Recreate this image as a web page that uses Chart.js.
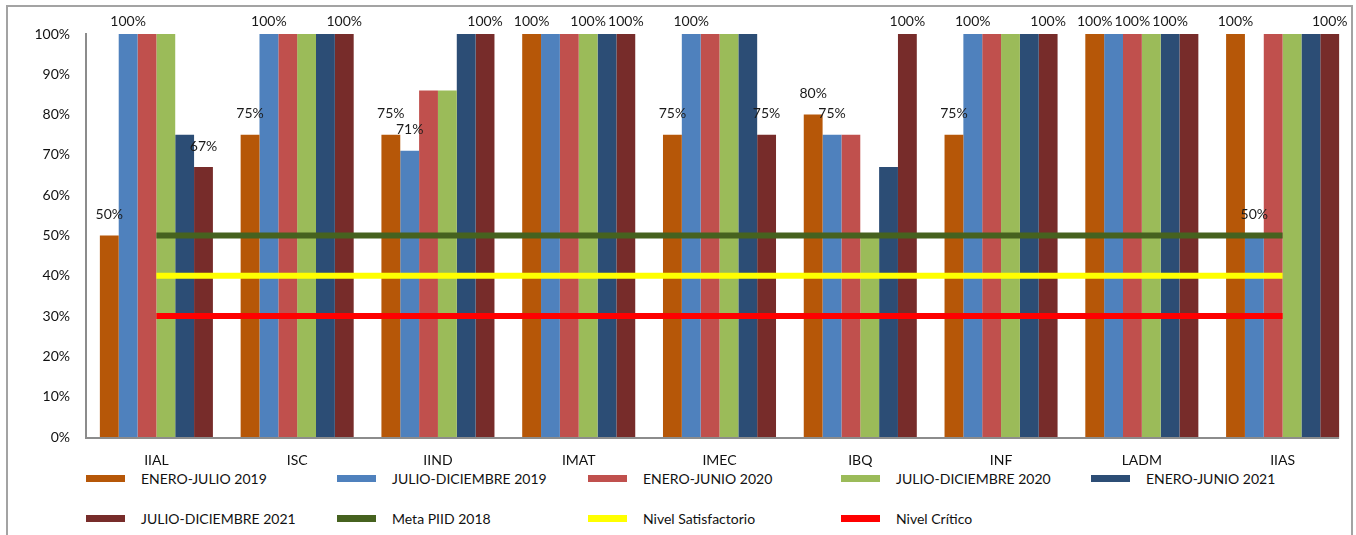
<!DOCTYPE html>
<html>
<head>
<meta charset="utf-8">
<script src="https://cdn.jsdelivr.net/npm/chart.js@4.4.0/dist/chart.umd.min.js"></script>
<style>
  html, body { margin: 0; padding: 0; background: #fff; }
  body { width: 1356px; height: 535px; position: relative; overflow: hidden; font-family: Lato, "Open Sans", sans-serif; }
  .frame { position: absolute; left: 6px; top: 5px; width: 1347px; height: 560px; border: 2px solid #a3a3a3; box-sizing: border-box; }
  .chart-box { position: absolute; left: 0; top: 0; width: 1356px; height: 470px; }
  #legend { position: absolute; left: 86px; top: 470px; width: 1270px; }
  .leg-item { position: absolute; display: flex; align-items: center; font-size: 14px; color: #111; white-space: nowrap; }
  .leg-swatch { width: 39px; height: 7px; margin-right: 16px; }
</style>
</head>
<body>
<div class="frame"></div>
<div class="chart-box"><canvas id="chart"></canvas></div>
<div id="legend"></div>
<script>
// data
const categories = ['IIAL', 'ISC', 'IIND', 'IMAT', 'IMEC', 'IBQ', 'INF', 'LADM', 'IIAS'];

const eneroJulio2019       = [50, 75, 75, 100, 75, 80, 75, 100, 100];
const julioDiciembre2019   = [100, 100, 71, 100, 100, 75, 100, 100, 50];
const eneroJunio2020       = [100, 100, 86, 100, 100, 75, 100, 100, 100];
const julioDiciembre2020   = [100, 100, 86, 100, 100, 50, 100, 100, 100];
const eneroJunio2021       = [75, 100, 100, 100, 100, 67, 100, 100, 100];
const julioDiciembre2021   = [67, 100, 100, 100, 75, 100, 100, 100, 100];

const metaPiid2018       = [50, 50, 50, 50, 50, 50, 50, 50, 50];
const nivelSatisfactorio = [40, 40, 40, 40, 40, 40, 40, 40, 40];
const nivelCritico       = [30, 30, 30, 30, 30, 30, 30, 30, 30];

// which bars carry a value label in the original (1 = shown)
const labelsEneroJulio2019     = [1, 1, 1, 1, 1, 1, 1, 1, 1];
const labelsJulioDiciembre2019 = [1, 1, 1, 0, 1, 1, 1, 0, 1];
const labelsEneroJunio2020     = [0, 0, 0, 0, 0, 0, 0, 1, 0];
const labelsJulioDiciembre2020 = [0, 0, 0, 1, 0, 0, 0, 0, 0];
const labelsEneroJunio2021     = [0, 0, 0, 0, 0, 0, 0, 1, 0];
const labelsJulioDiciembre2021 = [1, 1, 1, 1, 1, 1, 1, 0, 1];

const yTicks = [0, 10, 20, 30, 40, 50, 60, 70, 80, 90, 100];

const FONT = 'Lato';
const AXIS_COLOR = '#8c8c8c';

const barSeries = [
  { label: 'ENERO-JULIO 2019', data: eneroJulio2019, color: '#b65708', labels: labelsEneroJulio2019 },
  { label: 'JULIO-DICIEMBRE 2019', data: julioDiciembre2019, color: '#4f81bd', labels: labelsJulioDiciembre2019 },
  { label: 'ENERO-JUNIO 2020', data: eneroJunio2020, color: '#c0504d', labels: labelsEneroJunio2020 },
  { label: 'JULIO-DICIEMBRE 2020', data: julioDiciembre2020, color: '#9bbb59', labels: labelsJulioDiciembre2020 },
  { label: 'ENERO-JUNIO 2021', data: eneroJunio2021, color: '#2c4d75', labels: labelsEneroJunio2021 },
  { label: 'JULIO-DICIEMBRE 2021', data: julioDiciembre2021, color: '#772c2a', labels: labelsJulioDiciembre2021 },
];

const lineSeries = [
  { label: 'Meta PIID 2018', data: metaPiid2018, color: '#46621f' },
  { label: 'Nivel Satisfactorio', data: nivelSatisfactorio, color: '#ffff00' },
  { label: 'Nivel Crítico', data: nivelCritico, color: '#ff0000' },
];

const datasets = [
  ...barSeries.map(s => ({
    type: 'bar',
    label: s.label,
    data: s.data,
    backgroundColor: s.color,
    borderWidth: 0,
    order: 2,
    showLabels: s.labels,
  })),
  ...lineSeries.map(s => ({
    type: 'line',
    label: s.label,
    data: s.data,
    borderColor: s.color,
    backgroundColor: s.color,
    borderWidth: 6,
    pointRadius: 0,
    fill: false,
    tension: 0,
    order: 1,
  })),
];

// value labels above selected bars, kept inside the canvas like Excel does
const barValueLabels = {
  id: 'barValueLabels',
  afterDatasetsDraw(chart) {
    const ctx = chart.ctx;
    ctx.save();
    ctx.font = `14px ${FONT}`;
    ctx.fillStyle = '#1a1a1a';
    ctx.textAlign = 'center';
    ctx.textBaseline = 'middle';
    chart.data.datasets.forEach((ds, di) => {
      if (ds.type !== 'bar') return;
      const meta = chart.getDatasetMeta(di);
      meta.data.forEach((bar, i) => {
        if (!ds.showLabels[i]) return;
        const y = Math.max(bar.y - 21, 21);
        ctx.fillText(ds.data[i] + '%', bar.x, y);
      });
    });
    ctx.restore();
  }
};

// the category axis line in the original stops at the last bar
const categoryAxisLine = {
  id: 'categoryAxisLine',
  afterDatasetsDraw(chart) {
    const { ctx, chartArea } = chart;
    const lastBars = chart.getDatasetMeta(barSeries.length - 1).data;
    const last = lastBars[lastBars.length - 1];
    const right = last.x + last.width / 2;
    ctx.save();
    ctx.strokeStyle = AXIS_COLOR;
    ctx.lineWidth = 2;
    ctx.beginPath();
    ctx.moveTo(chartArea.left - 1, chartArea.bottom + 1);
    ctx.lineTo(right, chartArea.bottom + 1);
    ctx.stroke();
    ctx.restore();
  }
};

const chart = new Chart(document.getElementById('chart'), {
  data: { labels: categories, datasets },
  options: {
    responsive: true,
    maintainAspectRatio: false,
    animation: false,
    layout: { padding: { top: 34, right: 3, left: 0, bottom: 0 } },
    datasets: {
      bar: { categoryPercentage: 0.803, barPercentage: 1 },
    },
    plugins: {
      legend: { display: false },
      tooltip: { enabled: false },
    },
    scales: {
      x: {
        grid: { display: false, drawTicks: false },
        border: { display: false },
        ticks: { color: '#111', font: { family: FONT, size: 14 }, padding: 15, maxRotation: 0 },
        afterFit: (scale) => { scale.height = 33; },
      },
      y: {
        min: 0,
        max: 100,
        afterBuildTicks: (scale) => { scale.ticks = yTicks.map(v => ({ value: v })); },
        grid: { display: false, drawTicks: false },
        border: { display: true, color: AXIS_COLOR, width: 2 },
        ticks: {
          color: '#111',
          font: { family: FONT, size: 14 },
          padding: 16,
          callback: (v) => v + '%',
        },
        afterFit: (scale) => { scale.width = 86; },
      },
    },
  },
  plugins: [barValueLabels, categoryAxisLine],
});

// HTML legend in two rows of five columns, as in the original
const legendEl = document.getElementById('legend');
const colX = [0, 251, 502, 755, 1005];
const rowY = [0, 40];
chart.data.datasets.forEach((ds, i) => {
  const item = document.createElement('div');
  item.className = 'leg-item';
  item.style.left = colX[i % 5] + 'px';
  item.style.top = rowY[Math.floor(i / 5)] + 'px';
  const sw = document.createElement('span');
  sw.className = 'leg-swatch';
  sw.style.background = ds.type === 'bar' ? ds.backgroundColor : ds.borderColor;
  const tx = document.createElement('span');
  tx.textContent = ds.label;
  item.appendChild(sw);
  item.appendChild(tx);
  legendEl.appendChild(item);
});
</script>
</body>
</html>
